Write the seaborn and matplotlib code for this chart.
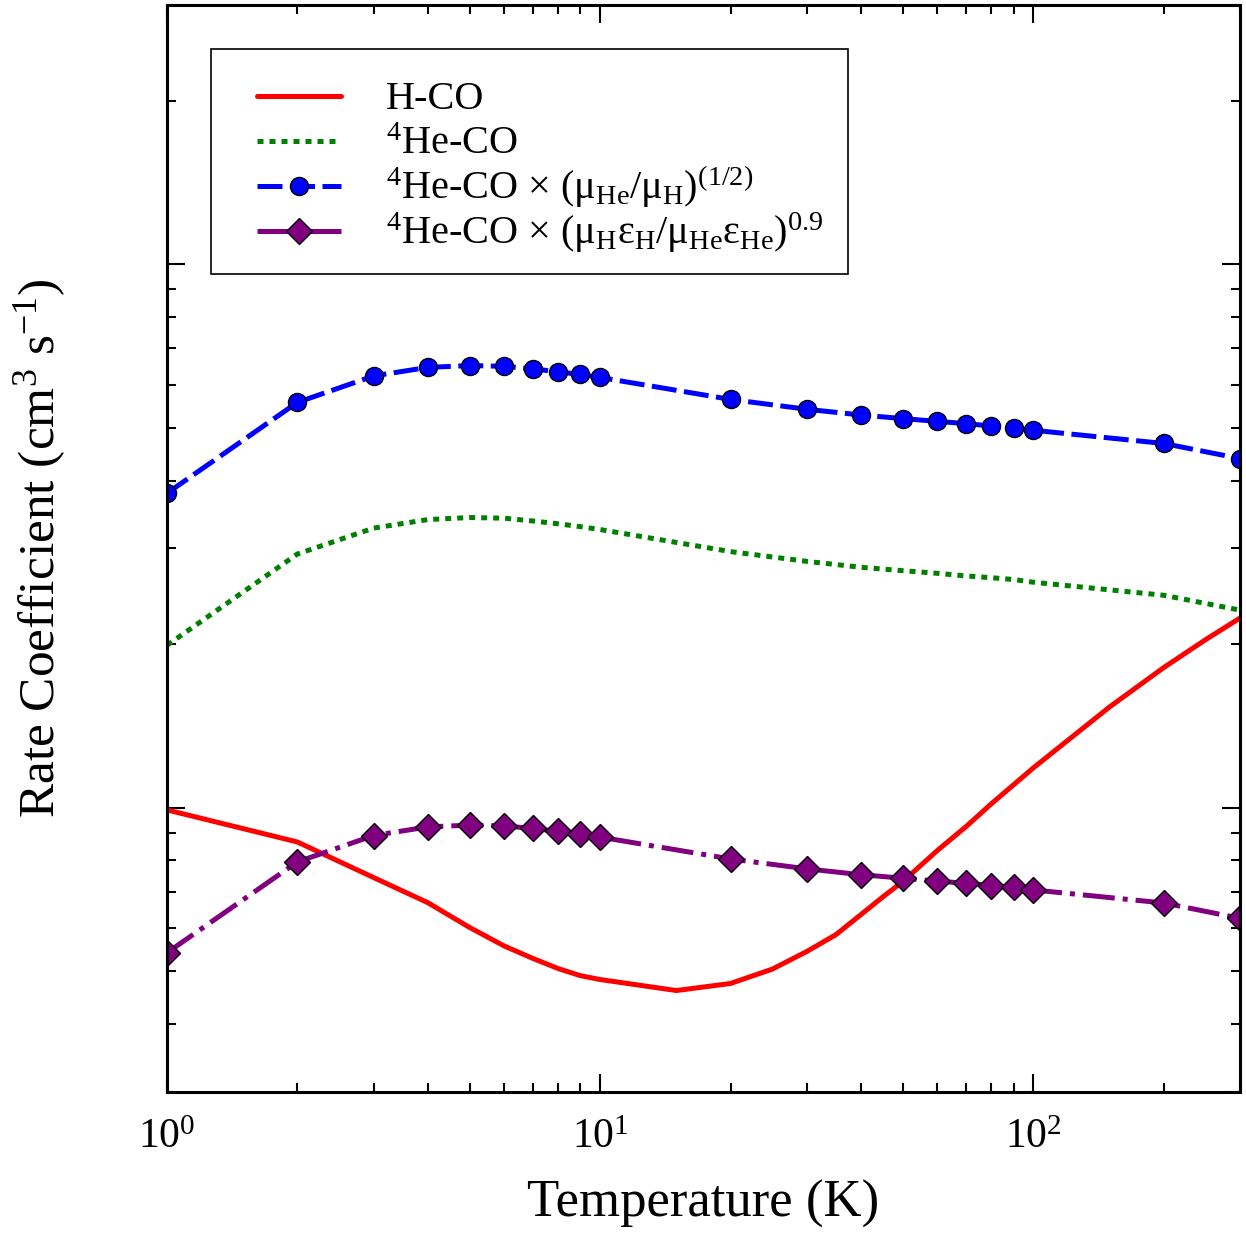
import matplotlib
matplotlib.use("Agg")
import matplotlib.pyplot as plt
import matplotlib.ticker as mticker
import matplotlib.transforms as mtransforms
from matplotlib.patches import Rectangle
import seaborn as sns

# Temperatures (K) and rate coefficients (cm^3 s^-1)
temp_he = [1, 2, 3, 4, 5, 6, 7, 8, 9, 10, 20, 30, 40, 50, 60, 70, 80, 90, 100, 200, 300]
he_co = [1.99, 2.93, 3.27, 3.39, 3.42, 3.41, 3.37, 3.33, 3.29, 3.25, 2.96,
         2.84, 2.77, 2.73, 2.70, 2.67, 2.65, 2.63, 2.60, 2.46, 2.31]
he_co_mu = [3.79, 5.57, 6.23, 6.46, 6.51, 6.49, 6.42, 6.34, 6.27, 6.19, 5.64,
            5.41, 5.28, 5.20, 5.14, 5.09, 5.04, 5.00, 4.95, 4.68, 4.39]
he_co_mueps = [0.541, 0.795, 0.889, 0.922, 0.929, 0.926, 0.916, 0.905, 0.895, 0.883, 0.805,
               0.772, 0.753, 0.742, 0.733, 0.726, 0.719, 0.714, 0.706, 0.668, 0.626]

temp_h = [1, 2, 3, 4, 5, 6, 7, 8, 9, 10, 15, 20, 25, 30, 35, 40, 45, 50,
          60, 70, 80, 90, 100, 150, 200, 250, 300]
h_co = [0.991, 0.865, 0.744, 0.669, 0.602, 0.557, 0.528, 0.506, 0.491, 0.483, 0.461,
        0.475, 0.505, 0.544, 0.584, 0.636, 0.686, 0.732, 0.834, 0.924, 1.017, 1.102,
        1.184, 1.533, 1.811, 2.039, 2.234]
unit = 1e-11

sns.set_style("ticks")
plt.rcParams["font.family"] = ["Liberation Serif", "DejaVu Serif"]
plt.rcParams["mathtext.fontset"] = "custom"
plt.rcParams["mathtext.rm"] = "Liberation Serif"
plt.rcParams["mathtext.it"] = "Liberation Serif:italic"
for key in ["text.color", "axes.labelcolor", "xtick.color", "ytick.color", "axes.edgecolor"]:
    plt.rcParams[key] = "black"

fig, ax = plt.subplots(figsize=(12.46, 12.33), dpi=100)
fig.subplots_adjust(left=0.134, right=0.9952, bottom=0.1144, top=0.996)

lw = 3.6
sns.lineplot(x=temp_h, y=[v * unit for v in h_co], ax=ax, color="red", lw=lw, label="H-CO")
sns.lineplot(x=temp_he, y=[v * unit for v in he_co], ax=ax, color="green", lw=lw,
             linestyle=(0, (1.2, 1.2)), dash_capstyle="butt", label=r"$^{4}$He-CO")
sns.lineplot(x=temp_he, y=[v * unit for v in he_co_mu], ax=ax, color="blue", lw=lw,
             linestyle=(0, (5, 1.5)), marker="o", markersize=13,
             markeredgecolor="black", markeredgewidth=1,
             label=r"$^{4}$He-CO × (μ$_{\rm He}$/μ$_{\rm H}$)$^{(1/2)}$")
sns.lineplot(x=temp_he, y=[v * unit for v in he_co_mueps], ax=ax, color="purple", lw=lw,
             linestyle="-.", marker="D", markersize=13,
             markeredgecolor="black", markeredgewidth=1,
             label=r"$^{4}$He-CO × (μ$_{\rm H}$ε$_{\rm H}$/μ$_{\rm He}$ε$_{\rm He}$)$^{0.9}$")

ax.set_xscale("log")
ax.set_yscale("log")
ax.set_xlim(1, 300)
ax.set_ylim(3e-12, 3e-10)
ax.yaxis.set_major_formatter(mticker.NullFormatter())
ax.yaxis.set_minor_formatter(mticker.NullFormatter())
ax.xaxis.set_minor_formatter(mticker.NullFormatter())

ax.tick_params(which="both", direction="in", top=True, right=True, width=1.5, labelsize=30, pad=19)
ax.tick_params(which="major", length=13)
ax.tick_params(which="minor", length=6.5)
for sp in ax.spines.values():
    sp.set_linewidth(2.2)

ax.set_xlabel("Temperature (K)", fontsize=38)
ax.set_ylabel(r"Rate Coefficient (cm$^{3}$ s$^{-1}$)", fontsize=37)
ax.xaxis.set_label_coords(0.5, -0.081)
ax.yaxis.set_label_coords(-0.092, 0.5)

# legend box drawn separately so its padding can match the original
ax.add_patch(Rectangle((0.041, 0.7525), 0.5937, 0.207, transform=ax.transAxes,
                       facecolor="white", edgecolor="black", lw=1.2, zorder=5, clip_on=False))
leg = ax.legend(loc="upper left", bbox_to_anchor=(0.0839, 0.9405), fontsize=29,
                frameon=False, handlelength=2.08, handletextpad=1.12, borderpad=0,
                handleheight=1.6, labelspacing=-0.169, numpoints=1, borderaxespad=0)
leg.set_zorder(6)
# nudge handles down so they sit level with the text
shift = mtransforms.ScaledTranslation(0, -0.07, fig.dpi_scale_trans)
for h in leg.legend_handles:
    h.set_transform(h.get_transform() + shift)

fig.savefig("out.png", dpi=100)
